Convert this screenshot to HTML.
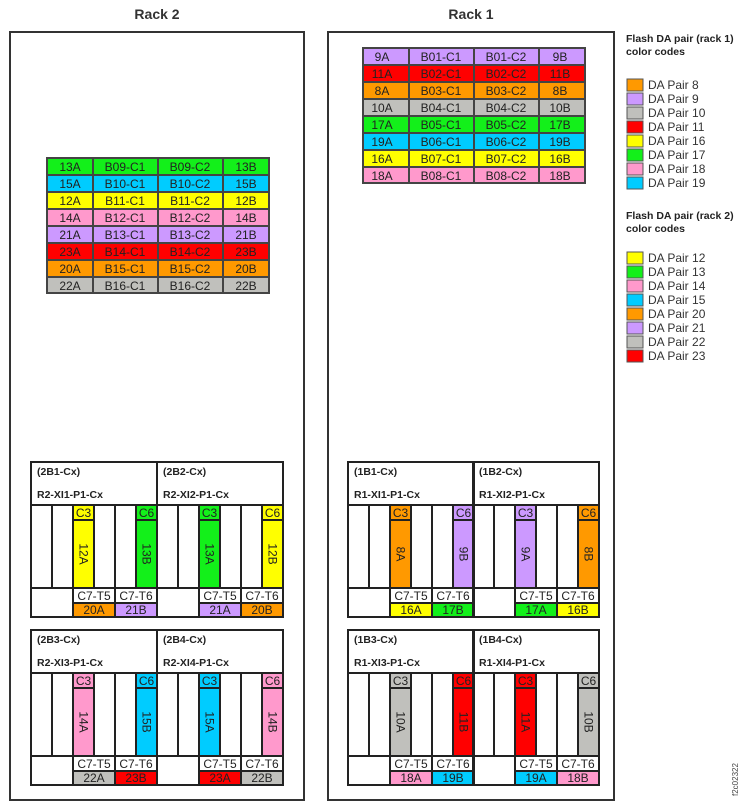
<!DOCTYPE html>
<html><head><meta charset="utf-8"><style>
body{margin:0;background:#fff}
svg{display:block;font-family:"Liberation Sans",Arial,sans-serif}
.h{font-size:10.5px;font-weight:bold;fill:#222}
.t{font-size:12px;fill:#222;text-anchor:middle}
.r{font-size:12px}
.l{font-size:12px;fill:#333}
.s{stroke:#222;stroke-width:2;fill:none}
.c{stroke:#444;stroke-width:2}
</style></head><body>
<svg width="742" height="810" viewBox="0 0 742 810">
<text x="157" y="19" font-size="14" font-weight="bold" fill="#333" text-anchor="middle">Rack 2</text>
<text x="471" y="19" font-size="14" font-weight="bold" fill="#333" text-anchor="middle">Rack 1</text>
<rect x="10" y="32" width="294" height="768" fill="none" stroke="#333" stroke-width="2"/>
<rect x="328" y="32" width="286" height="768" fill="none" stroke="#333" stroke-width="2"/>

<g class="c">
<rect x="47" y="158" width="46" height="17" fill="#13f01a"/><rect x="93" y="158" width="65" height="17" fill="#13f01a"/><rect x="158" y="158" width="65" height="17" fill="#13f01a"/><rect x="223" y="158" width="46" height="17" fill="#13f01a"/>
<rect x="47" y="175" width="46" height="17" fill="#00ccff"/><rect x="93" y="175" width="65" height="17" fill="#00ccff"/><rect x="158" y="175" width="65" height="17" fill="#00ccff"/><rect x="223" y="175" width="46" height="17" fill="#00ccff"/>
<rect x="47" y="192" width="46" height="17" fill="#ffff00"/><rect x="93" y="192" width="65" height="17" fill="#ffff00"/><rect x="158" y="192" width="65" height="17" fill="#ffff00"/><rect x="223" y="192" width="46" height="17" fill="#ffff00"/>
<rect x="47" y="209" width="46" height="17" fill="#ff99cc"/><rect x="93" y="209" width="65" height="17" fill="#ff99cc"/><rect x="158" y="209" width="65" height="17" fill="#ff99cc"/><rect x="223" y="209" width="46" height="17" fill="#ff99cc"/>
<rect x="47" y="226" width="46" height="17" fill="#cc99ff"/><rect x="93" y="226" width="65" height="17" fill="#cc99ff"/><rect x="158" y="226" width="65" height="17" fill="#cc99ff"/><rect x="223" y="226" width="46" height="17" fill="#cc99ff"/>
<rect x="47" y="243" width="46" height="17" fill="#ff0000"/><rect x="93" y="243" width="65" height="17" fill="#ff0000"/><rect x="158" y="243" width="65" height="17" fill="#ff0000"/><rect x="223" y="243" width="46" height="17" fill="#ff0000"/>
<rect x="47" y="260" width="46" height="17" fill="#ff9900"/><rect x="93" y="260" width="65" height="17" fill="#ff9900"/><rect x="158" y="260" width="65" height="17" fill="#ff9900"/><rect x="223" y="260" width="46" height="17" fill="#ff9900"/>
<rect x="47" y="277" width="46" height="16" fill="#c0c0bc"/><rect x="93" y="277" width="65" height="16" fill="#c0c0bc"/><rect x="158" y="277" width="65" height="16" fill="#c0c0bc"/><rect x="223" y="277" width="46" height="16" fill="#c0c0bc"/>
</g>
<g class="t">
<text x="70" y="171">13A</text><text x="125" y="171">B09-C1</text><text x="190" y="171">B09-C2</text><text x="246" y="171">13B</text>
<text x="70" y="188">15A</text><text x="125" y="188">B10-C1</text><text x="190" y="188">B10-C2</text><text x="246" y="188">15B</text>
<text x="70" y="205">12A</text><text x="125" y="205">B11-C1</text><text x="190" y="205">B11-C2</text><text x="246" y="205">12B</text>
<text x="70" y="222">14A</text><text x="125" y="222">B12-C1</text><text x="190" y="222">B12-C2</text><text x="246" y="222">14B</text>
<text x="70" y="239">21A</text><text x="125" y="239">B13-C1</text><text x="190" y="239">B13-C2</text><text x="246" y="239">21B</text>
<text x="70" y="256">23A</text><text x="125" y="256">B14-C1</text><text x="190" y="256">B14-C2</text><text x="246" y="256">23B</text>
<text x="70" y="273">20A</text><text x="125" y="273">B15-C1</text><text x="190" y="273">B15-C2</text><text x="246" y="273">20B</text>
<text x="70" y="290">22A</text><text x="125" y="290">B16-C1</text><text x="190" y="290">B16-C2</text><text x="246" y="290">22B</text>
</g>

<g class="c">
<rect x="363" y="48" width="46" height="17" fill="#cc99ff"/><rect x="409" y="48" width="65" height="17" fill="#cc99ff"/><rect x="474" y="48" width="65" height="17" fill="#cc99ff"/><rect x="539" y="48" width="46" height="17" fill="#cc99ff"/>
<rect x="363" y="65" width="46" height="17" fill="#ff0000"/><rect x="409" y="65" width="65" height="17" fill="#ff0000"/><rect x="474" y="65" width="65" height="17" fill="#ff0000"/><rect x="539" y="65" width="46" height="17" fill="#ff0000"/>
<rect x="363" y="82" width="46" height="17" fill="#ff9900"/><rect x="409" y="82" width="65" height="17" fill="#ff9900"/><rect x="474" y="82" width="65" height="17" fill="#ff9900"/><rect x="539" y="82" width="46" height="17" fill="#ff9900"/>
<rect x="363" y="99" width="46" height="17" fill="#c0c0bc"/><rect x="409" y="99" width="65" height="17" fill="#c0c0bc"/><rect x="474" y="99" width="65" height="17" fill="#c0c0bc"/><rect x="539" y="99" width="46" height="17" fill="#c0c0bc"/>
<rect x="363" y="116" width="46" height="17" fill="#13f01a"/><rect x="409" y="116" width="65" height="17" fill="#13f01a"/><rect x="474" y="116" width="65" height="17" fill="#13f01a"/><rect x="539" y="116" width="46" height="17" fill="#13f01a"/>
<rect x="363" y="133" width="46" height="17" fill="#00ccff"/><rect x="409" y="133" width="65" height="17" fill="#00ccff"/><rect x="474" y="133" width="65" height="17" fill="#00ccff"/><rect x="539" y="133" width="46" height="17" fill="#00ccff"/>
<rect x="363" y="150" width="46" height="17" fill="#ffff00"/><rect x="409" y="150" width="65" height="17" fill="#ffff00"/><rect x="474" y="150" width="65" height="17" fill="#ffff00"/><rect x="539" y="150" width="46" height="17" fill="#ffff00"/>
<rect x="363" y="167" width="46" height="16" fill="#ff99cc"/><rect x="409" y="167" width="65" height="16" fill="#ff99cc"/><rect x="474" y="167" width="65" height="16" fill="#ff99cc"/><rect x="539" y="167" width="46" height="16" fill="#ff99cc"/>
</g>
<g class="t">
<text x="382" y="61">9A</text><text x="441" y="61">B01-C1</text><text x="506" y="61">B01-C2</text><text x="560" y="61">9B</text>
<text x="382" y="78">11A</text><text x="441" y="78">B02-C1</text><text x="506" y="78">B02-C2</text><text x="560" y="78">11B</text>
<text x="382" y="95">8A</text><text x="441" y="95">B03-C1</text><text x="506" y="95">B03-C2</text><text x="560" y="95">8B</text>
<text x="382" y="112">10A</text><text x="441" y="112">B04-C1</text><text x="506" y="112">B04-C2</text><text x="560" y="112">10B</text>
<text x="382" y="129">17A</text><text x="441" y="129">B05-C1</text><text x="506" y="129">B05-C2</text><text x="560" y="129">17B</text>
<text x="382" y="146">19A</text><text x="441" y="146">B06-C1</text><text x="506" y="146">B06-C2</text><text x="560" y="146">19B</text>
<text x="382" y="163">16A</text><text x="441" y="163">B07-C1</text><text x="506" y="163">B07-C2</text><text x="560" y="163">16B</text>
<text x="382" y="180">18A</text><text x="441" y="180">B08-C1</text><text x="506" y="180">B08-C2</text><text x="560" y="180">18B</text>
</g>

<g transform="translate(31,462)">
<rect x="42" y="43" width="21" height="83" fill="#ffff00"/><rect x="105" y="43" width="21" height="83" fill="#13f01a"/>
<rect x="42" y="141" width="42" height="14" fill="#ff9900"/><rect x="84" y="141" width="42" height="14" fill="#cc99ff"/>
<rect width="126" height="155" class="s"/>
<path class="s" d="M0 43H126M0 126H126M21 43V126M42 43V155M63 43V126M84 43V155M105 43V126M42 58H63M105 58H126M42 141H126"/>
<text x="6" y="13" class="h">(2B1-Cx)</text><text x="6" y="36" class="h">R2-XI1-P1-Cx</text>
<g class="t"><text x="52.5" y="55">C3</text><text x="115.5" y="55">C6</text><text x="63" y="138">C7-T5</text><text x="105" y="138">C7-T6</text><text x="63" y="152">20A</text><text x="105" y="152">21B</text>
<text class="r" transform="translate(48.5,92) rotate(90)">12A</text><text class="r" transform="translate(111.5,92) rotate(90)">13B</text></g>
</g>
<g transform="translate(157,462)">
<rect x="42" y="43" width="21" height="83" fill="#13f01a"/><rect x="105" y="43" width="21" height="83" fill="#ffff00"/>
<rect x="42" y="141" width="42" height="14" fill="#cc99ff"/><rect x="84" y="141" width="42" height="14" fill="#ff9900"/>
<rect width="126" height="155" class="s"/>
<path class="s" d="M0 43H126M0 126H126M21 43V126M42 43V155M63 43V126M84 43V155M105 43V126M42 58H63M105 58H126M42 141H126"/>
<text x="6" y="13" class="h">(2B2-Cx)</text><text x="6" y="36" class="h">R2-XI2-P1-Cx</text>
<g class="t"><text x="52.5" y="55">C3</text><text x="115.5" y="55">C6</text><text x="63" y="138">C7-T5</text><text x="105" y="138">C7-T6</text><text x="63" y="152">21A</text><text x="105" y="152">20B</text>
<text class="r" transform="translate(48.5,92) rotate(90)">13A</text><text class="r" transform="translate(111.5,92) rotate(90)">12B</text></g>
</g>
<g transform="translate(31,630)">
<rect x="42" y="43" width="21" height="83" fill="#ff99cc"/><rect x="105" y="43" width="21" height="83" fill="#00ccff"/>
<rect x="42" y="141" width="42" height="14" fill="#c0c0bc"/><rect x="84" y="141" width="42" height="14" fill="#ff0000"/>
<rect width="126" height="155" class="s"/>
<path class="s" d="M0 43H126M0 126H126M21 43V126M42 43V155M63 43V126M84 43V155M105 43V126M42 58H63M105 58H126M42 141H126"/>
<text x="6" y="13" class="h">(2B3-Cx)</text><text x="6" y="36" class="h">R2-XI3-P1-Cx</text>
<g class="t"><text x="52.5" y="55">C3</text><text x="115.5" y="55">C6</text><text x="63" y="138">C7-T5</text><text x="105" y="138">C7-T6</text><text x="63" y="152">22A</text><text x="105" y="152">23B</text>
<text class="r" transform="translate(48.5,92) rotate(90)">14A</text><text class="r" transform="translate(111.5,92) rotate(90)">15B</text></g>
</g>
<g transform="translate(157,630)">
<rect x="42" y="43" width="21" height="83" fill="#00ccff"/><rect x="105" y="43" width="21" height="83" fill="#ff99cc"/>
<rect x="42" y="141" width="42" height="14" fill="#ff0000"/><rect x="84" y="141" width="42" height="14" fill="#c0c0bc"/>
<rect width="126" height="155" class="s"/>
<path class="s" d="M0 43H126M0 126H126M21 43V126M42 43V155M63 43V126M84 43V155M105 43V126M42 58H63M105 58H126M42 141H126"/>
<text x="6" y="13" class="h">(2B4-Cx)</text><text x="6" y="36" class="h">R2-XI4-P1-Cx</text>
<g class="t"><text x="52.5" y="55">C3</text><text x="115.5" y="55">C6</text><text x="63" y="138">C7-T5</text><text x="105" y="138">C7-T6</text><text x="63" y="152">23A</text><text x="105" y="152">22B</text>
<text class="r" transform="translate(48.5,92) rotate(90)">15A</text><text class="r" transform="translate(111.5,92) rotate(90)">14B</text></g>
</g>
<g transform="translate(348,462)">
<rect x="42" y="43" width="21" height="83" fill="#ff9900"/><rect x="105" y="43" width="21" height="83" fill="#cc99ff"/>
<rect x="42" y="141" width="42" height="14" fill="#ffff00"/><rect x="84" y="141" width="42" height="14" fill="#13f01a"/>
<rect width="126" height="155" class="s"/>
<path class="s" d="M0 43H126M0 126H126M21 43V126M42 43V155M63 43V126M84 43V155M105 43V126M42 58H63M105 58H126M42 141H126"/>
<text x="6" y="13" class="h">(1B1-Cx)</text><text x="6" y="36" class="h">R1-XI1-P1-Cx</text>
<g class="t"><text x="52.5" y="55">C3</text><text x="115.5" y="55">C6</text><text x="63" y="138">C7-T5</text><text x="105" y="138">C7-T6</text><text x="63" y="152">16A</text><text x="105" y="152">17B</text>
<text class="r" transform="translate(48.5,92) rotate(90)">8A</text><text class="r" transform="translate(111.5,92) rotate(90)">9B</text></g>
</g>
<g transform="translate(473,462)">
<rect x="42" y="43" width="21" height="83" fill="#cc99ff"/><rect x="105" y="43" width="21" height="83" fill="#ff9900"/>
<rect x="42" y="141" width="42" height="14" fill="#13f01a"/><rect x="84" y="141" width="42" height="14" fill="#ffff00"/>
<rect width="126" height="155" class="s"/>
<path class="s" d="M0 43H126M0 126H126M21 43V126M42 43V155M63 43V126M84 43V155M105 43V126M42 58H63M105 58H126M42 141H126"/>
<text x="6" y="13" class="h">(1B2-Cx)</text><text x="6" y="36" class="h">R1-XI2-P1-Cx</text>
<g class="t"><text x="52.5" y="55">C3</text><text x="115.5" y="55">C6</text><text x="63" y="138">C7-T5</text><text x="105" y="138">C7-T6</text><text x="63" y="152">17A</text><text x="105" y="152">16B</text>
<text class="r" transform="translate(48.5,92) rotate(90)">9A</text><text class="r" transform="translate(111.5,92) rotate(90)">8B</text></g>
</g>
<g transform="translate(348,630)">
<rect x="42" y="43" width="21" height="83" fill="#c0c0bc"/><rect x="105" y="43" width="21" height="83" fill="#ff0000"/>
<rect x="42" y="141" width="42" height="14" fill="#ff99cc"/><rect x="84" y="141" width="42" height="14" fill="#00ccff"/>
<rect width="126" height="155" class="s"/>
<path class="s" d="M0 43H126M0 126H126M21 43V126M42 43V155M63 43V126M84 43V155M105 43V126M42 58H63M105 58H126M42 141H126"/>
<text x="6" y="13" class="h">(1B3-Cx)</text><text x="6" y="36" class="h">R1-XI3-P1-Cx</text>
<g class="t"><text x="52.5" y="55">C3</text><text x="115.5" y="55">C6</text><text x="63" y="138">C7-T5</text><text x="105" y="138">C7-T6</text><text x="63" y="152">18A</text><text x="105" y="152">19B</text>
<text class="r" transform="translate(48.5,92) rotate(90)">10A</text><text class="r" transform="translate(111.5,92) rotate(90)">11B</text></g>
</g>
<g transform="translate(473,630)">
<rect x="42" y="43" width="21" height="83" fill="#ff0000"/><rect x="105" y="43" width="21" height="83" fill="#c0c0bc"/>
<rect x="42" y="141" width="42" height="14" fill="#00ccff"/><rect x="84" y="141" width="42" height="14" fill="#ff99cc"/>
<rect width="126" height="155" class="s"/>
<path class="s" d="M0 43H126M0 126H126M21 43V126M42 43V155M63 43V126M84 43V155M105 43V126M42 58H63M105 58H126M42 141H126"/>
<text x="6" y="13" class="h">(1B4-Cx)</text><text x="6" y="36" class="h">R1-XI4-P1-Cx</text>
<g class="t"><text x="52.5" y="55">C3</text><text x="115.5" y="55">C6</text><text x="63" y="138">C7-T5</text><text x="105" y="138">C7-T6</text><text x="63" y="152">19A</text><text x="105" y="152">18B</text>
<text class="r" transform="translate(48.5,92) rotate(90)">11A</text><text class="r" transform="translate(111.5,92) rotate(90)">10B</text></g>
</g>

<text x="626" y="42" class="h" font-size="10">Flash DA pair (rack 1)</text>
<text x="626" y="55" class="h" font-size="10">color codes</text>
<g stroke="#555" stroke-width="1">
<rect x="627" y="79" width="16" height="12" fill="#ff9900"/><rect x="627" y="93" width="16" height="12" fill="#cc99ff"/><rect x="627" y="107" width="16" height="12" fill="#c0c0bc"/><rect x="627" y="121" width="16" height="12" fill="#ff0000"/><rect x="627" y="135" width="16" height="12" fill="#ffff00"/><rect x="627" y="149" width="16" height="12" fill="#13f01a"/><rect x="627" y="163" width="16" height="12" fill="#ff99cc"/><rect x="627" y="177" width="16" height="12" fill="#00ccff"/>
</g>
<g class="l">
<text x="648" y="89">DA Pair  8</text><text x="648" y="103">DA Pair  9</text><text x="648" y="117">DA Pair 10</text><text x="648" y="131">DA Pair 11</text><text x="648" y="145">DA Pair 16</text><text x="648" y="159">DA Pair 17</text><text x="648" y="173">DA Pair 18</text><text x="648" y="187">DA Pair 19</text>
</g>
<text x="626" y="219" class="h" font-size="10">Flash DA pair (rack 2)</text>
<text x="626" y="232" class="h" font-size="10">color codes</text>
<g stroke="#555" stroke-width="1">
<rect x="627" y="252" width="16" height="12" fill="#ffff00"/><rect x="627" y="266" width="16" height="12" fill="#13f01a"/><rect x="627" y="280" width="16" height="12" fill="#ff99cc"/><rect x="627" y="294" width="16" height="12" fill="#00ccff"/><rect x="627" y="308" width="16" height="12" fill="#ff9900"/><rect x="627" y="322" width="16" height="12" fill="#cc99ff"/><rect x="627" y="336" width="16" height="12" fill="#c0c0bc"/><rect x="627" y="350" width="16" height="12" fill="#ff0000"/>
</g>
<g class="l">
<text x="648" y="262">DA Pair 12</text><text x="648" y="276">DA Pair 13</text><text x="648" y="290">DA Pair 14</text><text x="648" y="304">DA Pair 15</text><text x="648" y="318">DA Pair 20</text><text x="648" y="332">DA Pair 21</text><text x="648" y="346">DA Pair 22</text><text x="648" y="360">DA Pair 23</text>
</g>
<text transform="translate(738,796) rotate(-90)" font-size="8" fill="#444">f2c02322</text>
</svg>
</body></html>
